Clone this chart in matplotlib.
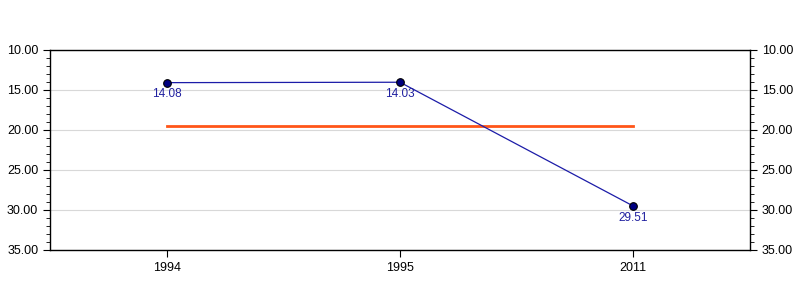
import matplotlib
matplotlib.use("Agg")
import matplotlib.pyplot as plt
from matplotlib.ticker import MultipleLocator, FormatStrFormatter

plt.rcParams['font.family'] = ['Liberation Sans', 'DejaVu Sans']

categories = ["1994", "1995", "2011"]
values = [14.08, 14.03, 29.51]
average = [19.5, 19.5, 19.5]

fig = plt.figure(figsize=(8, 3), dpi=100)
ax = fig.add_axes([50/800, 50/300, 700/800, 200/300])
x = list(range(len(categories)))

ax.plot(x, average, color="#ff5518", lw=2, zorder=2)
ax.plot(x, values, color="#1c1ca8", lw=0.9, marker="o", ms=5.5,
        mfc="#000080", mec="#000000", mew=0.8, zorder=3)
for xi, v in zip(x, values):
    ax.annotate(f"{v:.2f}", (xi, v), xytext=(0, -4), textcoords="offset points",
                ha="center", va="top", fontsize=8.5, color="#2020a0")

ax.set_xlim(-0.5, len(categories) - 0.5)
ax.set_ylim(35, 10)
ax.set_xticks(x)
ax.set_xticklabels(categories)
ax.yaxis.set_major_locator(MultipleLocator(5))
ax.yaxis.set_minor_locator(MultipleLocator(1))
ax.yaxis.set_major_formatter(FormatStrFormatter("%.2f"))
ax.grid(axis="y", color="#d8d8d8", lw=0.8, zorder=0)
ax.set_axisbelow(True)
ax.tick_params(axis="y", which="both", left=True, right=True, labelleft=True,
               labelright=True, direction="out", labelsize=9)
ax.tick_params(axis="y", which="major", length=5)
ax.tick_params(axis="y", which="minor", length=3)
ax.tick_params(axis="x", length=5, labelsize=9)
for s in ax.spines.values():
    s.set_linewidth(1)
fig.savefig("out.png", dpi=100)
